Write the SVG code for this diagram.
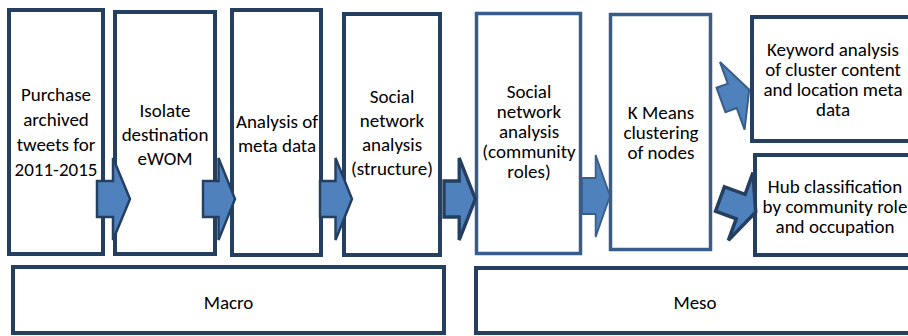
<svg xmlns="http://www.w3.org/2000/svg" width="908" height="336" viewBox="0 0 908 336">
<style>
  .box { fill: #ffffff; stroke: #243f60; stroke-width: 4; }
  .boxm { fill: #ffffff; stroke: #385d8a; stroke-width: 3.5; }
  .t { font-family: Carlito, Calibri, Lato, "Liberation Sans", sans-serif; font-size: 19px; fill: #000000; text-anchor: middle; }
  .arr { fill: #4f81bd; stroke: #243f60; stroke-width: 2.5; stroke-linejoin: miter; }
  .arrm { fill: #4f81bd; stroke: #385d8a; stroke-width: 2; stroke-linejoin: miter; }
  .arrd { fill: #4f81bd; stroke: #243f60; stroke-width: 3.5; stroke-linejoin: miter; }
</style>
<defs>
  <path id="harrow" d="M0,-18 L16,-18 L16,-41 L33,0 L16,41 L16,18 L0,18 Z"/>
</defs>
<rect width="908" height="336" fill="#ffffff"/>

<g id="node-purchase">
  <rect class="box" x="9" y="10" width="94" height="244"/>
  <text class="t" x="56" y="101">Purchase</text>
  <text class="t" x="56" y="126">archived</text>
  <text class="t" x="56" y="151">tweets for</text>
  <text class="t" x="56" y="176">2011-2015</text>
</g>
<g id="node-isolate">
  <rect class="box" x="115" y="12" width="100" height="242"/>
  <text class="t" x="165" y="117">Isolate</text>
  <text class="t" x="165" y="141">destination</text>
  <text class="t" x="165" y="165">eWOM</text>
</g>
<g id="node-meta">
  <rect class="box" x="232" y="10" width="89" height="245"/>
  <text class="t" x="277" y="128">Analysis of</text>
  <text class="t" x="277" y="152">meta data</text>
</g>
<g id="node-sna-structure">
  <rect class="box" x="344" y="14" width="96" height="241"/>
  <text class="t" x="392" y="103">Social</text>
  <text class="t" x="392" y="127">network</text>
  <text class="t" x="392" y="151">analysis</text>
  <text class="t" x="392" y="175">(structure)</text>
</g>
<g id="node-sna-community">
  <rect class="boxm" x="476.5" y="13.5" width="104" height="240"/>
  <text class="t" x="529" y="98">Social</text>
  <text class="t" x="529" y="118">network</text>
  <text class="t" x="529" y="138">analysis</text>
  <text class="t" x="529" y="158">(community</text>
  <text class="t" x="529" y="178">roles)</text>
</g>
<g id="node-kmeans">
  <rect class="boxm" x="610.5" y="14.5" width="100" height="235"/>
  <text class="t" x="661" y="118.5">K Means</text>
  <text class="t" x="661" y="138.5">clustering</text>
  <text class="t" x="661" y="158.5">of nodes</text>
</g>
<g id="node-keyword">
  <rect class="box" x="752" y="17" width="200" height="124"/>
  <text class="t" x="833" y="56">Keyword analysis</text>
  <text class="t" x="833" y="76">of cluster content</text>
  <text class="t" x="833" y="96">and location meta</text>
  <text class="t" x="833" y="116">data</text>
</g>
<g id="node-hub">
  <rect class="box" x="755" y="155" width="200" height="100"/>
  <text class="t" x="835" y="192.5">Hub classification</text>
  <text class="t" x="835" y="212.5">by community role</text>
  <text class="t" x="835" y="232.5">and occupation</text>
</g>
<g id="node-macro">
  <rect class="box" x="13" y="267" width="431" height="66"/>
  <text class="t" x="228.5" y="309">Macro</text>
</g>
<g id="node-meso">
  <rect class="box" x="476" y="268" width="500" height="65"/>
  <text class="t" x="695" y="309">Meso</text>
</g>

<g id="connectors">
  <use href="#harrow" class="arr" transform="translate(97,199)"/>
  <use href="#harrow" class="arr" transform="translate(203,199) scale(0.97,1)"/>
  <use href="#harrow" class="arr" transform="translate(320,199) scale(0.97,1)"/>
  <use href="#harrow" class="arrd" transform="translate(444,199) scale(0.95,1)"/>
  <use href="#harrow" class="arrm" transform="translate(582,196) scale(0.85,1)"/>
  <path class="arrm" transform="translate(721,100) rotate(-20)" d="M0,-13 L12,-13 L12,-36 L30,0 L12,36 L12,13 L0,13 Z"/>
  <path class="arrd" transform="translate(720,199) rotate(20)" d="M0,-13 L22,-13 L22,-36 L38,0 L22,36 L22,13 L0,13 Z"/>
</g>
</svg>
